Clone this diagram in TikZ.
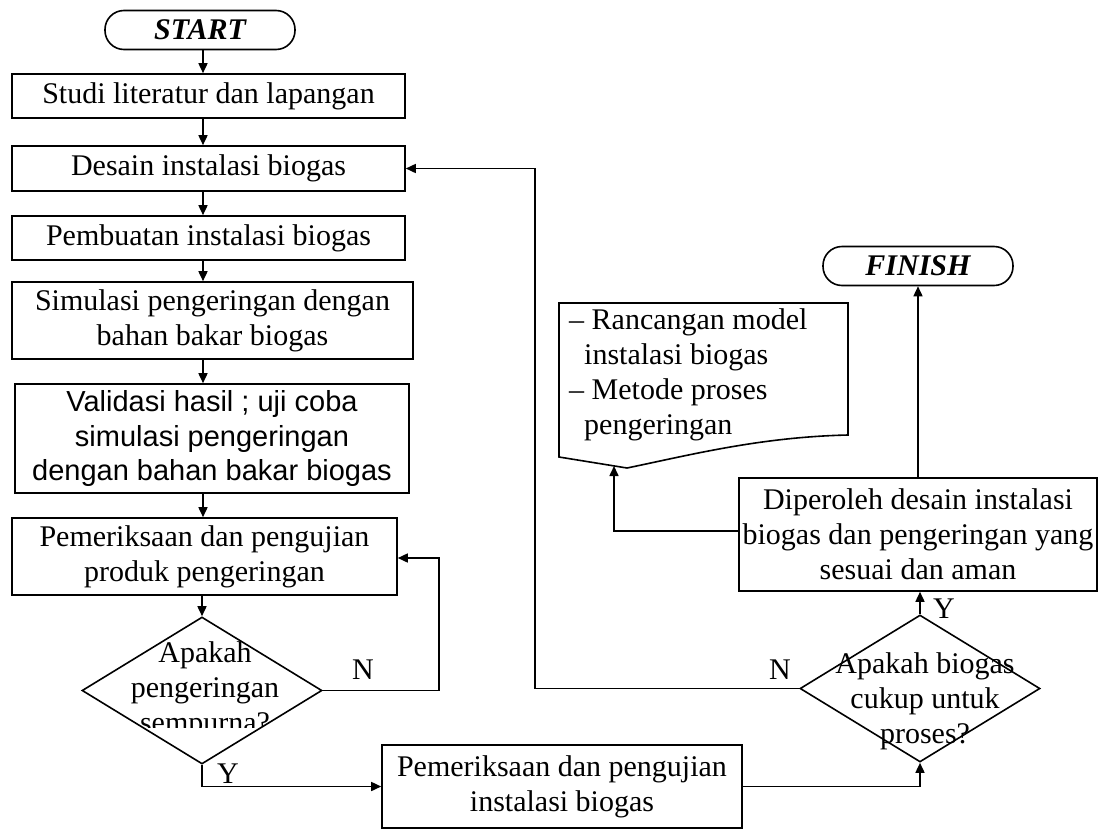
\documentclass[tikz,border=0pt]{standalone}
\usepackage{fontspec}
\setmainfont{Liberation Serif}
\newfontfamily\arialfont{Liberation Sans}
\usetikzlibrary{shapes.geometric,arrows.meta}
\begin{document}
\begin{tikzpicture}[x=1pt,y=-1pt,
  ln/.style={line width=1.6pt},
  arr/.style={ln,-{Triangle[length=10pt,width=9pt]}},
  box/.style={draw,ln,rectangle,inner sep=0pt,align=center,font=\fontsize{30}{35}\selectfont},
  term/.style={draw,ln,rectangle,rounded corners=19pt,inner sep=0pt,minimum width=190pt,minimum height=39pt,font=\fontsize{30}{35}\selectfont\bfseries\itshape},
  dia/.style={draw,ln,diamond,inner sep=0pt,minimum width=240pt,minimum height=147pt},
  txt/.style={inner sep=0pt,align=center,font=\fontsize{30}{35}\selectfont},
  lbl/.style={inner sep=0pt,font=\fontsize{30}{35}\selectfont}]
\useasboundingbox (0,0) rectangle (1100,830);
\coordinate (col) at (203,0);

\node[term] (start) at (200,30) {START};
\node[box,minimum width=393pt,minimum height=44pt] (b1) at (208.5,96) {Studi literatur dan lapangan};
\node[box,minimum width=393pt,minimum height=45pt] (b2) at (208.5,168.5) {Desain instalasi biogas};
\node[box,minimum width=393pt,minimum height=44pt] (b3) at (208.5,238) {Pembuatan instalasi biogas};
\node[box,minimum width=401pt,minimum height=77pt] (b4) at (212.5,320.5) {Simulasi pengeringan dengan\\bahan bakar biogas};
\node[box,minimum width=394pt,minimum height=109pt,font=\fontsize{29}{34.5}\selectfont\arialfont] (b5) at (212,438.5) {Validasi hasil ; uji coba\\simulasi pengeringan\\dengan bahan bakar biogas};
\node[box,minimum width=385pt,minimum height=77pt] (b6) at (204.5,556.5) {Pemeriksaan dan pengujian\\produk pengeringan};

\node[dia] (d1) at (202,690.5) {};
\begin{scope}
\clip (0,0) rectangle (1100,727);
\node[txt] (d1t) at (205,690) {Apakah\\pengeringan\\sempurna?};
\end{scope}

\node[box,minimum width=360pt,minimum height=83pt] (b7) at (562,786.5) {Pemeriksaan dan pengujian\\instalasi biogas};

\node[dia] (d2) at (920,688.5) {};
\node[txt] (d2t) at (925,701) {Apakah biogas\\cukup untuk\\proses?};

\node[box,minimum width=358pt,minimum height=113pt] (b8) at (918,534.5) {Diperoleh desain instalasi\\biogas dan pengeringan yang\\sesuai dan aman};

\node[term] (finish) at (918,266) {FINISH};

% document shape
\draw[ln] (559,457) -- (559,303) -- (848,303) -- (848,435)
  .. controls (760,437) and (690,455) .. (627,468) -- cycle;
\coordinate (docb) at (614,466);
\node[inner sep=0pt,anchor=north west,align=left,font=\fontsize{30}{35}\selectfont] (doct) at (569,308)
  {-- Rancangan model\\\phantom{--}instalasi biogas\\-- Metode proses\\\phantom{--}pengeringan};

% connectors
\draw[arr] (start.south -| col) -- (b1.north -| col);
\draw[arr] (b1.south -| col) -- (b2.north -| col);
\draw[arr] (b2.south -| col) -- (b3.north -| col);
\draw[arr] (b3.south -| col) -- (b4.north -| col);
\draw[arr] (b4.south -| col) -- (b5.north -| col);
\draw[arr] (b5.south -| col) -- (b6.north -| col);
\draw[arr] (b6.south -| d1) -- (d1.north);

\coordinate (n1) at (439,558);
\draw[arr] (d1.east) -| (n1) -- (b6.east |- n1);
\node[lbl] (ln1) at (363,670) {N};

\draw[arr] (d1.south) |- (b7.west);
\node[lbl] (ly1) at (228,774) {Y};

\draw[arr] (b7.east) -| (d2.south);

\coordinate (n2) at (535,168.5);
\draw[arr] (d2.west) -| (n2) -- (b2.east);
\node[lbl] (ln2) at (780,670) {N};

\draw[arr] (d2.north) -- (d2.north |- b8.south);
\node[lbl] (ly2) at (944,609) {Y};

\draw[arr] (finish.south |- b8.north) -- (finish.south);

\draw[arr] (b8.west |- 0,531) -| (docb);
\end{tikzpicture}
\end{document}
